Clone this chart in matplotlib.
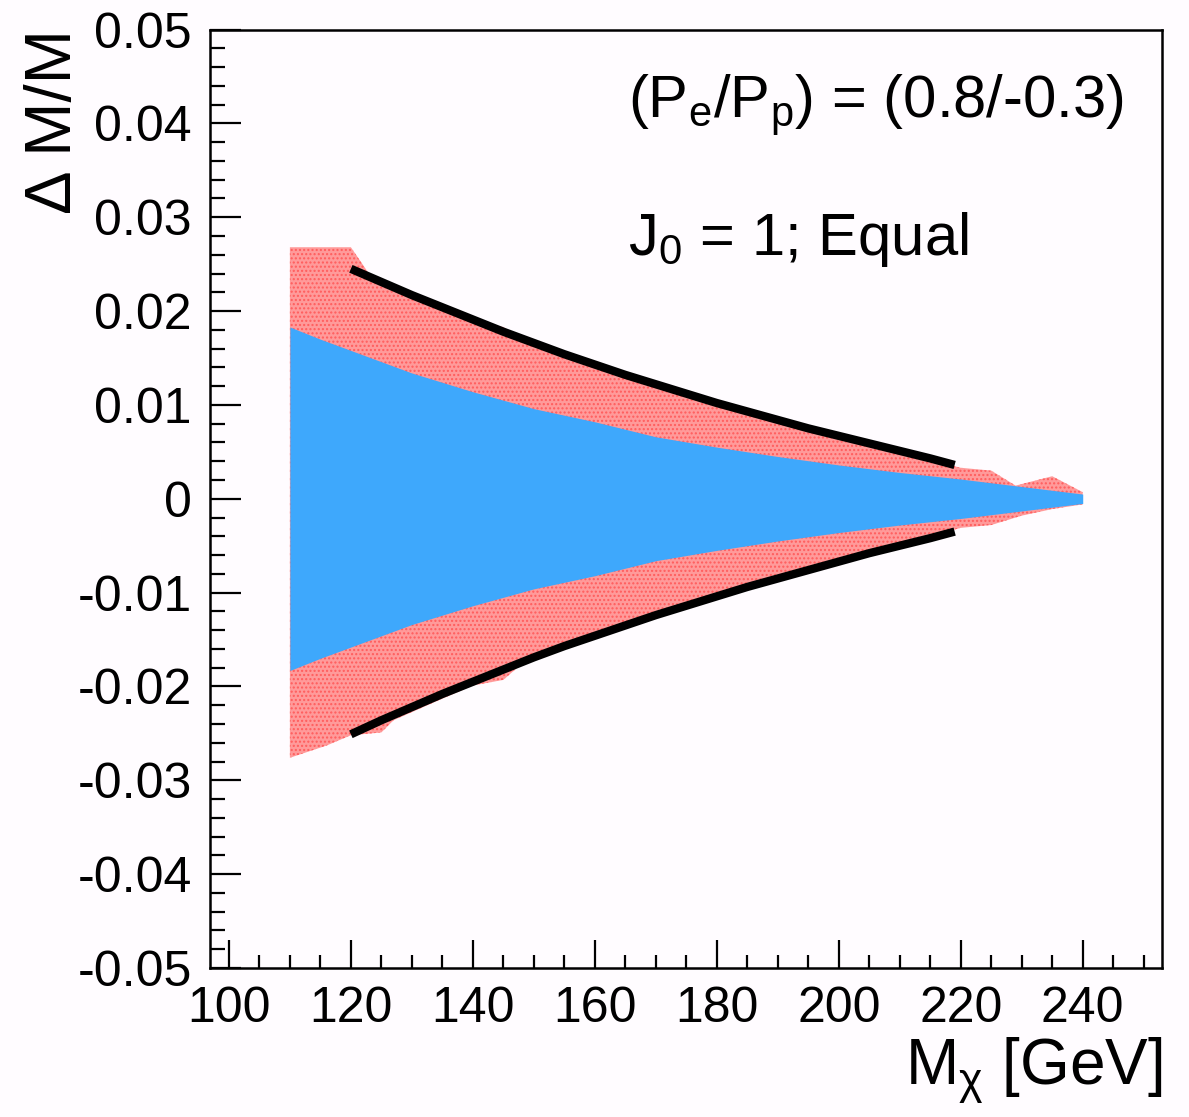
import matplotlib
matplotlib.use('Agg')
import numpy as np
import matplotlib.pyplot as plt
from matplotlib.ticker import MultipleLocator, FixedFormatter, FixedLocator

plt.rcParams['font.family'] = ['Liberation Sans', 'DejaVu Sans']
plt.rcParams['mathtext.fontset'] = 'custom'
plt.rcParams['mathtext.rm'] = 'Liberation Sans'
plt.rcParams['mathtext.it'] = 'Liberation Sans:italic'
plt.rcParams['hatch.linewidth'] = 1.0

# blue band (symmetric half width)
blue_x = [110, 115, 120, 125, 130, 140, 150, 160, 170, 180, 190, 200, 210, 220, 230, 240]
blue_w = [0.0183, 0.0170, 0.0158, 0.0146, 0.0134, 0.0114, 0.0096, 0.0082, 0.0066,
          0.0055, 0.0045, 0.0036, 0.0028, 0.0021, 0.0013, 0.0005]

# pink band, upper and lower edges
pink_up_x = [110, 120, 124, 130, 135, 140, 145, 148, 150, 160, 170, 178, 180, 183,
             190, 200, 210, 220, 225, 229, 235, 240]
pink_up_y = [0.0268, 0.0268, 0.0230, 0.0214, 0.0201, 0.0189, 0.0183, 0.0170, 0.0163,
             0.0141, 0.0121, 0.0106, 0.0106, 0.0098, 0.0080, 0.0064, 0.0049, 0.0033,
             0.0030, 0.0014, 0.0024, 0.0007]
pink_lo_x = [110, 116, 120, 125, 127, 135, 140, 145, 148, 150, 160, 170, 180, 183,
             190, 200, 210, 220, 225, 230, 235, 240]
pink_lo_y = [-0.0276, -0.0263, -0.0252, -0.0249, -0.0236, -0.0213, -0.0199, -0.0193,
             -0.0176, -0.0168, -0.0145, -0.0124, -0.0105, -0.0098, -0.0083, -0.0065,
             -0.0049, -0.0031, -0.0028, -0.0018, -0.0011, -0.0006]

# black curves
line_x = [120, 125, 130, 135, 140, 145, 150, 155, 160, 165, 170, 175, 180, 185,
          190, 195, 200, 205, 210, 215, 219]
line_up = [0.0245, 0.0231, 0.0217, 0.0204, 0.0191, 0.0178, 0.0166, 0.0154, 0.0143,
           0.0132, 0.0122, 0.0112, 0.0102, 0.0093, 0.0084, 0.0075, 0.0067, 0.0059,
           0.0051, 0.0043, 0.0036]
line_lo = [-0.0251, -0.0236, -0.0222, -0.0208, -0.0195, -0.0182, -0.0169, -0.0157,
           -0.0146, -0.0135, -0.0124, -0.0114, -0.0104, -0.0094, -0.0085, -0.0076,
           -0.0067, -0.0058, -0.0050, -0.0042, -0.0035]

yticks = [0.05, 0.04, 0.03, 0.02, 0.01, 0, -0.01, -0.02, -0.03, -0.04, -0.05]
ytick_labels = ['0.05', '0.04', '0.03', '0.02', '0.01', '0', '-0.01', '-0.02', '-0.03', '-0.04', '-0.05']

bg = '#fffcff'
fig = plt.figure(figsize=(11.89, 11.17), dpi=100, facecolor=bg)
ax = fig.add_axes([210/1189, 1 - 968/1117, (1162-210)/1189, (968-29.5)/1117])
ax.set_facecolor(bg)

px = np.r_[pink_up_x, pink_lo_x[::-1]]
py = np.r_[pink_up_y, pink_lo_y[::-1]]
ax.fill(px, py, facecolor='#ff9a9a', edgecolor='#ff5c5c', hatch='....', linewidth=0, zorder=1)

bx = np.array(blue_x)
bw = np.array(blue_w)
ax.fill_between(bx, -bw, bw, color='#3ea8fc', linewidth=0, zorder=2)

ax.plot(line_x, line_up, color='black', lw=6, solid_capstyle='butt', zorder=3)
ax.plot(line_x, line_lo, color='black', lw=6, solid_capstyle='butt', zorder=3)

ax.set_xlim(96.9, 253)
ax.set_ylim(-0.05, 0.05)

ax.xaxis.set_major_locator(MultipleLocator(20))
ax.xaxis.set_minor_locator(MultipleLocator(5))
ax.yaxis.set_major_locator(FixedLocator(yticks))
ax.yaxis.set_major_formatter(FixedFormatter(ytick_labels))
ax.yaxis.set_minor_locator(MultipleLocator(0.002))

ax.tick_params(which='both', direction='in', top=False, right=False, width=1.6, labelsize=36)
ax.tick_params(axis='y', which='major', length=22, pad=13)
ax.tick_params(axis='y', which='minor', length=11)
ax.tick_params(axis='x', which='major', length=20, pad=13)
ax.tick_params(axis='x', which='minor', length=9.5)
for s in ax.spines.values():
    s.set_linewidth(1.8)

ax.set_xlabel(r'M$_{\mathrm{χ}}$ [GeV]', loc='right', fontsize=46)
ax.xaxis.set_label_coords(1.0, -0.072)
ax.set_ylabel('Δ M/M', loc='top', fontsize=47)
ax.yaxis.set_label_coords(-0.132, 1.0)

ax.text(0.439, 0.906, r'(P$_{\rm e}$/P$_{\rm p}$) = (0.8/-0.3)', transform=ax.transAxes,
        fontsize=43, va='baseline', ha='left')
ax.text(0.439, 0.760, r'J$_{\rm 0}$ = 1; Equal', transform=ax.transAxes,
        fontsize=43, va='baseline', ha='left')

fig.savefig('out.png', dpi=100, facecolor=bg)
